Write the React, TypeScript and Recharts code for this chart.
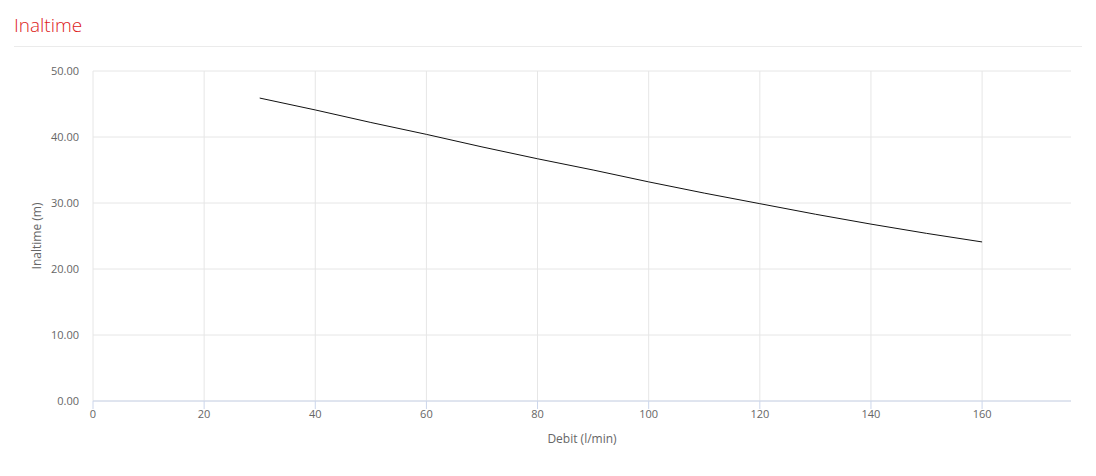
import React from 'react';
import {
  LineChart,
  Line,
  XAxis,
  YAxis,
  CartesianGrid,
} from 'recharts';

// debit (l/min) -> inaltime (m)
const debit = [30, 40, 50, 60, 70, 80, 90, 100, 110, 120, 130, 140, 150, 160];
const inaltime = [45.9, 44.1, 42.2, 40.4, 38.5, 36.7, 35.0, 33.2, 31.5, 29.9, 28.3, 26.8, 25.4, 24.1];

const xTicks = [0, 20, 40, 60, 80, 100, 120, 140, 160];
const yTicks = [0, 10, 20, 30, 40, 50];
const xMax = 176;

const data = debit.map((d, i) => ({ debit: d, inaltime: inaltime[i] }));

const font = '"Open Sans", "Noto Sans", sans-serif';
const tickStyle = { fill: '#666666', fontSize: 11, fontFamily: font };

// only draw vertical grid lines at the x ticks (no line on the right edge)
const verticalLines = ({ offset }: any) =>
  xTicks.map((t) => offset.left + (t / xMax) * offset.width);

const App: React.FC = () => {
  return (
    <div style={{ position: 'absolute', left: 0, top: 0, width: 1096, height: 476, background: '#fff', fontFamily: font }}>
      <div
        style={{
          position: 'absolute',
          left: 14,
          top: 12,
          fontSize: 19,
          fontWeight: 300,
          color: '#dd1a22',
          lineHeight: '26px',
        }}
      >
        Inaltime
      </div>
      <div style={{ position: 'absolute', left: 14, top: 46, width: 1068, height: 1, background: '#ebebeb' }} />
      <div style={{ position: 'absolute', left: 0, top: 0 }}>
        <LineChart
          width={1096}
          height={476}
          data={data}
          margin={{ top: 71, right: 25, left: 0, bottom: 25 }}
        >
          <CartesianGrid stroke="#e6e6e6" verticalCoordinatesGenerator={verticalLines} />
          <XAxis
            dataKey="debit"
            type="number"
            domain={[0, xMax]}
            ticks={xTicks}
            height={50}
            tick={tickStyle}
            tickSize={8}
            tickMargin={1}
            stroke="#ccd6eb"
            label={{
              value: 'Debit (l/min)',
              position: 'insideBottom',
              offset: 8,
              style: { fill: '#666666', fontSize: 12, fontFamily: font },
            }}
          />
          <YAxis
            type="number"
            domain={[0, 50]}
            ticks={yTicks}
            width={93}
            tick={tickStyle}
            tickFormatter={(v: number) => v.toFixed(2)}
            axisLine={false}
            tickLine={false}
            tickMargin={8}
            label={{
              value: 'Inaltime (m)',
              angle: -90,
              position: 'insideLeft',
              offset: 37,
              style: { fill: '#666666', fontSize: 12, fontFamily: font, textAnchor: 'middle' },
            }}
          />
          <Line
            type="linear"
            dataKey="inaltime"
            stroke="#111111"
            strokeWidth={1}
            dot={false}
            activeDot={false}
            isAnimationActive={false}
          />
        </LineChart>
      </div>
    </div>
  );
};

export default App;
